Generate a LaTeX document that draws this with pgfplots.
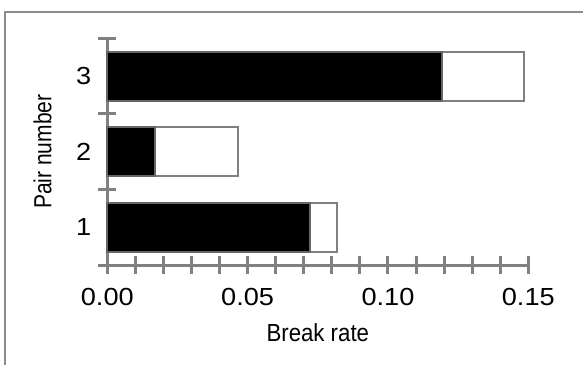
\documentclass[border=0pt]{standalone}
\usepackage{fontspec}
\setmainfont{Liberation Sans}
\newfontfamily\tickfont[FakeStretch=1.1]{Liberation Sans}
\newfontfamily\xlabfont[FakeStretch=0.9]{Liberation Sans}
\newfontfamily\ylabfont[FakeStretch=0.85]{Liberation Sans}
\usepackage{pgfplots}
\pgfplotsset{compat=1.18}
\definecolor{ax}{HTML}{808080}
\definecolor{frm}{HTML}{8C8C8C}
\begin{document}
\begin{tikzpicture}[font=\fontsize{12.35}{14.8}\selectfont]
\useasboundingbox (0pt,0pt) rectangle (291.5pt,182pt);
\draw[color=frm, line width=1pt] (2.5pt,-10pt) -- (2.5pt,176pt) -- (300pt,176pt);
\begin{axis}[
  at={(53.65pt,49.5pt)}, anchor=south west,
  scale only axis, width=210.5pt, height=113.35pt,
  xmin=0, xmax=0.15, ymin=0.5, ymax=3.5,
  axis x line=bottom, axis y line=left,
  axis line style={ax, line width=1.5pt, -},
  xbar stacked, bar width=24.5pt,
  xtick={0,0.05,0.1,0.15},
  xticklabels={0.00,0.05,0.10,0.15},
  minor xtick={0.01,0.02,0.03,0.04,0.06,0.07,0.08,0.09,0.11,0.12,0.13,0.14},
  ytick={0.5,1.5,2.5,3.5}, yticklabels={,,,},
  extra y ticks={1,2,3}, extra y tick labels={1,2,3},
  extra y tick style={major tick length=0pt},
  tick align=center,
  major tick length=9pt, minor tick length=9pt,
  every tick/.style={ax, line width=1.5pt},
  tick label style={font=\fontsize{12.35}{14.8}\tickfont},
  xlabel={Break rate},
  xlabel style={font=\fontsize{12.35}{14.8}\xlabfont, at={(axis description cs:0.5,0)}, anchor=base, yshift=-38pt},
  xticklabel style={anchor=base, yshift=-15.5pt},
  yticklabel style={xshift=-4.5pt},
  clip=false,
]
\addplot[fill=black, draw=black!60, line width=1pt] coordinates {(0.0722,1) (0.0170,2) (0.1191,3)};
\addplot[fill=white, draw=ax, line width=1pt] coordinates {(0.0095,1) (0.0294,2) (0.0293,3)};
\draw[ax, line width=1.5pt] (axis cs:0,0.5) -- ([xshift=-4.7pt]axis cs:0,0.5);
\node[rotate=90, anchor=base, font=\fontsize{12.35}{14.8}\ylabfont] at ([xshift=-28pt]axis description cs:0,0.5) {Pair number};
\end{axis}
\end{tikzpicture}
\end{document}
